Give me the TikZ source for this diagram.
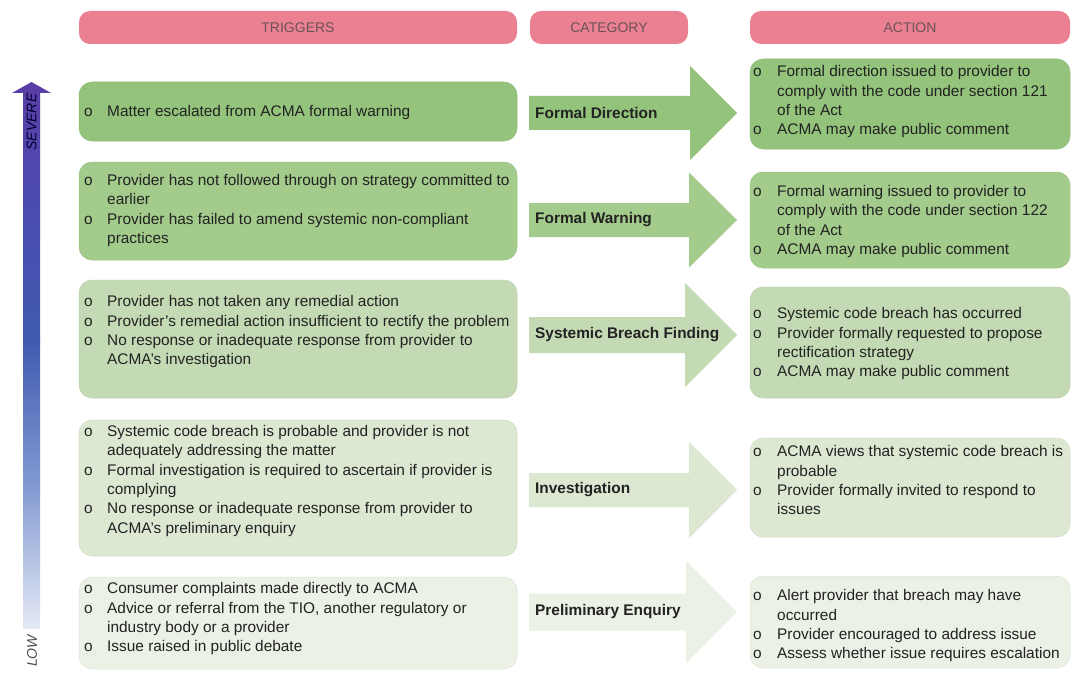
\documentclass[tikz,border=0pt]{standalone}
\usepackage{fontspec}
\setmainfont{Liberation Sans}
\usepackage{array}
\definecolor{pinkc}{HTML}{EB8093}
\definecolor{hdrc}{HTML}{6A5358}
\definecolor{txtc}{HTML}{222222}
\definecolor{g1}{HTML}{94C47C}
\definecolor{g2}{HTML}{A3CB8B}
\definecolor{g3}{HTML}{C4DAB4}
\definecolor{g4}{HTML}{DCE8D2}
\definecolor{g5}{HTML}{ECF1E6}
\definecolor{sevtop}{HTML}{5B3DA7}
\definecolor{sevup}{HTML}{4A4CAE}
\definecolor{sevmid}{HTML}{3F5AB0}
\definecolor{sevlow}{HTML}{8199D1}
\definecolor{sevbot}{HTML}{E4E9F4}
\newcommand{\trlist}[1]{\begin{tabular}{@{}p{23pt}@{}l@{}}#1\end{tabular}}
\newcommand{\aclist}[1]{\begin{tabular}{@{}p{24pt}@{}l@{}}#1\end{tabular}}
\newcommand{\catarrow}[5]{%
  \fill[#1] (529,#2-#3) -- (#5,#2-#3) -- (#5,#2-#4) -- (737,#2) -- (#5,#2+#4) -- (#5,#2+#3) -- (529,#2+#3) -- cycle;}
\begin{document}
\begin{tikzpicture}[x=1pt,y=-1pt,
  hdr/.style={fill=pinkc, rounded corners=11pt, minimum height=33pt, inner sep=0pt,
    font=\fontsize{14}{16}\selectfont, text=hdrc},
  rowbox/.style={fill=#1, draw=#1!95!black, line width=0.5pt, rounded corners=13pt, inner sep=0pt},
  tbox/.style={rowbox=#1, minimum width=438pt},
  abox/.style={rowbox=#1, minimum width=320pt},
  txt/.style={inner sep=0pt, anchor=west, font=\fontsize{15.4}{19.3}\selectfont, text=txtc},
  cat/.style={inner sep=0pt, anchor=west, font=\fontsize{15.4}{19.3}\selectfont\bfseries, text=txtc},
  scale label/.style={inner sep=0pt, rotate=90, font=\fontsize{14}{16}\selectfont\itshape}]
\useasboundingbox (0,0) rectangle (1078,674);
\fill[white] (0,0) rectangle (1078,674);

% headers
\node[hdr, minimum width=438pt] (h1) at (298,27.5) {TRIGGERS};
\node[hdr, minimum width=158pt] (h2) at (609,27.5) {CATEGORY};
\node[hdr, minimum width=320pt] (h3) at (910,27.5) {ACTION};

% severity scale arrow (upper and lower part of one gradient)
\path[top color=sevmid, bottom color=sevbot, middle color=sevlow]
  (23,628) -- (23,339.5) -- (40,339.5) -- (40,628) -- cycle;
\path[top color=sevtop, bottom color=sevmid, middle color=sevup]
  (23,340) -- (23,93) -- (12,93) -- (31.5,82) -- (51,93) -- (40,93) -- (40,340) -- cycle;
\node[scale label, text=black!80!blue] (sev) at (31.5,122) {SEVERE};
\node[scale label, text=black!70] (low) at (32,651) {LOW};

% trigger boxes
\node[tbox=g1, minimum height=59pt] (t1) at (298,111.5) {};
\node[tbox=g2, minimum height=98pt] (t2) at (298,211) {};
\node[tbox=g3, minimum height=118pt] (t3) at (298,339) {};
\node[tbox=g4, minimum height=136pt] (t4) at (298,488) {};
\node[tbox=g5, minimum height=92pt] (t5) at (298,623) {};

% action boxes
\node[abox=g1, minimum height=90pt] (a1) at (910,104) {};
\node[abox=g2, minimum height=96pt] (a2) at (910,220) {};
\node[abox=g3, minimum height=111pt] (a3) at (910,342.5) {};
\node[abox=g4, minimum height=99pt] (a4) at (910,487.5) {};
\node[abox=g5, minimum height=92pt] (a5) at (910,622) {};

% category arrows
\catarrow{g1}{113}{17}{47}{690}
\catarrow{g2}{220}{17}{47.5}{689}
\catarrow{g3}{335}{18}{52}{685}
\catarrow{g4}{490}{17}{48}{689}
\catarrow{g5}{612}{18.5}{51.5}{686}

% category labels
\node[cat] (c1) at (535,113) {Formal Direction};
\node[cat] (c2) at (535,220) {Formal Warning};
\node[cat] (c3) at (535,335) {Systemic Breach Finding};
\node[cat] (c4) at (535,490) {Investigation};
\node[cat] (c5) at (535,612) {Preliminary Enquiry};

% trigger texts
\node[txt] (tt1) at (84,113) {\trlist{o & Matter escalated from ACMA formal warning}};
\node[txt] (tt2) at (84,210.5) {\trlist{o & Provider has not followed through on strategy committed to\\
  & earlier\\
  o & Provider has failed to amend systemic non-compliant\\
  & practices}};
\node[txt] (tt3) at (84,332) {\trlist{o & Provider has not taken any remedial action\\
  o & Provider's remedial action insufficient to rectify the problem\\
  o & No response or inadequate response from provider to\\
  & ACMA's investigation}};
\node[txt] (tt4) at (84,481) {\trlist{o & Systemic code breach is probable and provider is not\\
  & adequately addressing the matter\\
  o & Formal investigation is required to ascertain if provider is\\
  & complying\\
  o & No response or inadequate response from provider to\\
  & ACMA's preliminary enquiry}};
\node[txt] (tt5) at (84,619) {\trlist{o & Consumer complaints made directly to ACMA\\
  o & Advice or referral from the TIO, another regulatory or\\
  & industry body or a provider\\
  o & Issue raised in public debate}};

% action texts
\node[txt] (at1) at (753,102) {\aclist{o & Formal direction issued to provider to\\
  & comply with the code under section 121\\
  & of the Act\\
  o & ACMA may make public comment}};
\node[txt] (at2) at (753,221.5) {\aclist{o & Formal warning issued to provider to\\
  & comply with the code under section 122\\
  & of the Act\\
  o & ACMA may make public comment}};
\node[txt] (at3) at (753,344) {\aclist{o & Systemic code breach has occurred\\
  o & Provider formally requested to propose\\
  & rectification strategy\\
  o & ACMA may make public comment}};
\node[txt] (at4) at (753,482) {\aclist{o & ACMA views that systemic code breach is\\
  & probable\\
  o & Provider formally invited to respond to\\
  & issues}};
\node[txt] (at5) at (753,626) {\aclist{o & Alert provider that breach may have\\
  & occurred\\
  o & Provider encouraged to address issue\\
  o & Assess whether issue requires escalation}};
\end{tikzpicture}
\end{document}
